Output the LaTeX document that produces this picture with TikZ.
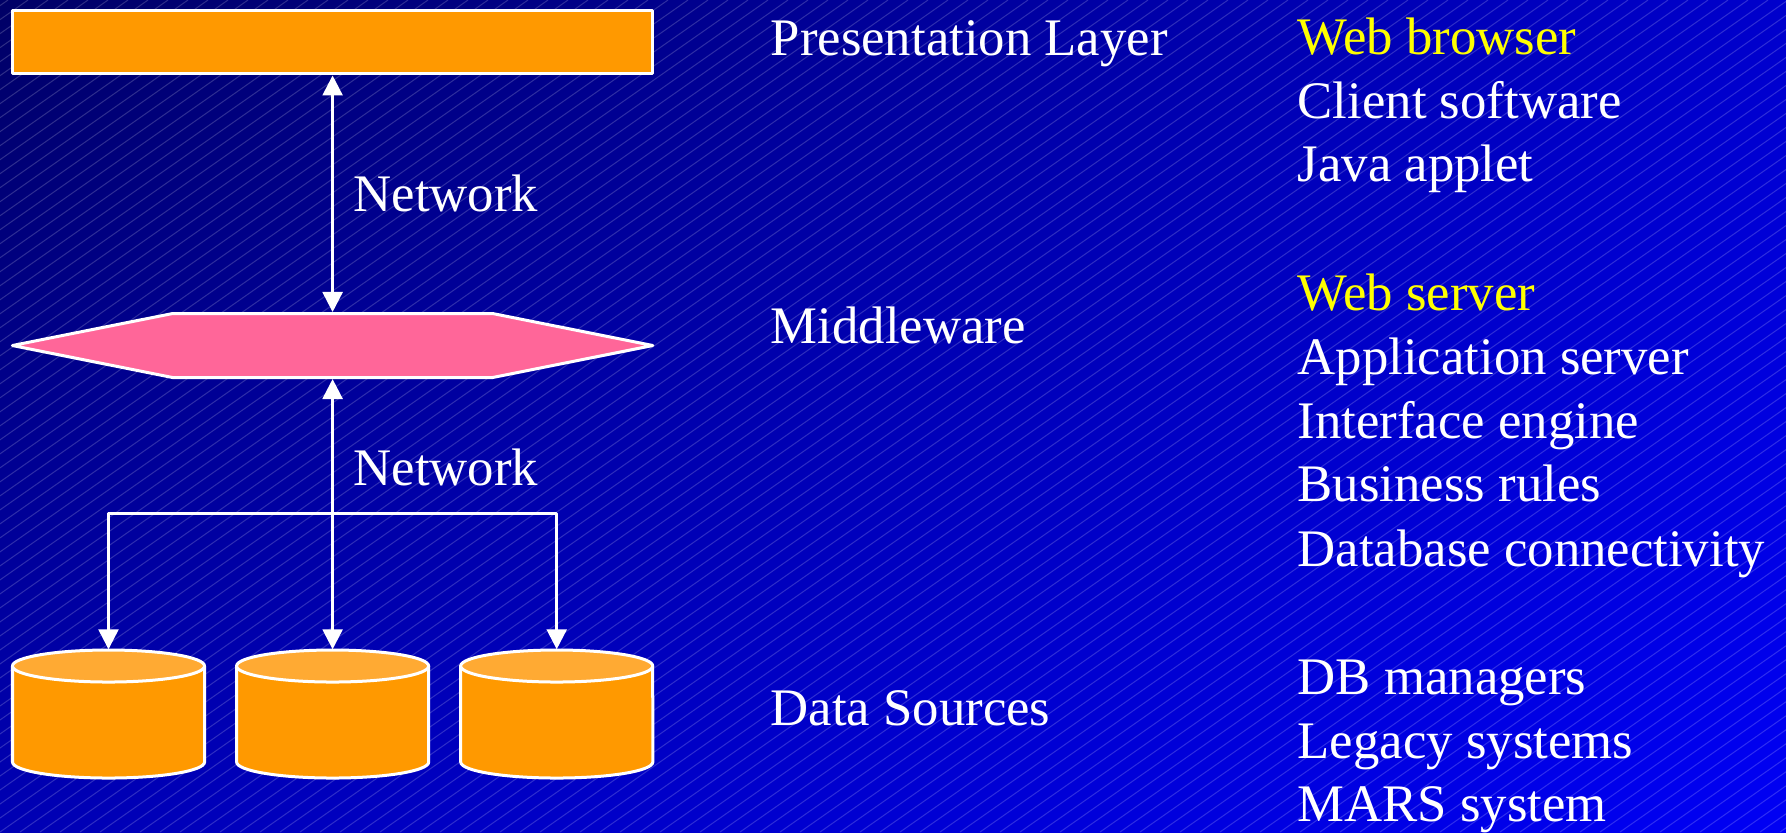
\documentclass[tikz,border=0pt]{standalone}
\usepackage{fontspec}
\setmainfont{Liberation Serif}
\usetikzlibrary{arrows.meta,shapes.symbols,shadings}

\definecolor{bgnavy}{HTML}{000066}
\definecolor{bgupper}{HTML}{0000CC}
\definecolor{bglower}{HTML}{0000B4}
\definecolor{bgbright}{HTML}{0000F4}
\definecolor{tierorange}{HTML}{FF9900}
\definecolor{captop}{HTML}{FFAA33}
\definecolor{midpink}{HTML}{FF6699}
\definecolor{hiyellow}{HTML}{FFFF00}

\begin{document}
\begin{tikzpicture}[x=0.01cm,y=-0.01cm,line join=round,>={Triangle[width=2mm,length=2mm]}]
        \tikzset{tier/.style={draw=white,line width=0.3mm,fill=tierorange,minimum width=64mm,minimum height=6.35mm,inner sep=0pt},
                 hub/.style={signal,signal to=west and east,signal pointer angle=22.6,draw=white,line width=0.3mm,fill=midpink,minimum width=64mm,minimum height=6.4mm,inner sep=0pt},
                 store/.style={minimum width=19.2mm,minimum height=12.8mm,inner sep=0pt},
                 rim/.style={draw=white,line width=0.3mm},
                 link/.style={draw=white,line width=0.25mm},
                 hatch/.style={white,opacity=0.18,line width=0.1mm},
                 caption/.style={text=white,font=\fontsize{15pt}{18pt}\selectfont,inner sep=0pt,anchor=base west}}
        \useasboundingbox (0,0) rectangle (1786,832);
        \shade[upper left=bgnavy,upper right=bgupper,lower left=bglower,lower right=bgbright] (0,0) rectangle (1786,832);
        \begin{scope}
        \clip (0,0) rectangle (1786,832);
        \foreach \k in {-1200,-1180,...,1786}
            \draw[hatch] (\k,832)--++(1188,-832);
        \end{scope}
        % tiers
        \node[tier] (pres) at (332.6,42.2) {};
        \node[hub] (mid) at (332.6,345.5) {};
        \foreach \cx [count=\i] in {108.5,332.6,556.7} {
            \node[store] (db\i) at (\cx,714) {};
            \draw[rim,fill=tierorange] (\cx-96,666)--(\cx-96,762) arc[start angle=180,end angle=360,x radius=9.6mm,y radius=1.6mm]--(\cx+96,666)--cycle;
            \draw[rim,fill=captop] (\cx,666) ellipse [x radius=9.6mm,y radius=1.6mm];
        }
        \coordinate (split) at (332.6,513.3);
        \draw[link,<->] (pres.south)--(mid.north);
        \draw[link,<->] (mid.south)--(db2.north);
        \draw[link,<->] (db1.north) |- (split) -| (db3.north);
        \node[caption] (net1) at (353,211.7) {Network};
        \node[caption] (net2) at (353,485) {Network};
        % layer names
        \node[caption] (presname) at (770,55) {Presentation Layer};
        \node[caption] (midname) at (770,343.3) {Middleware};
        \node[caption] (dataname) at (770,725) {Data Sources};
        % examples
        \node[caption,text=hiyellow] (browser) at (1297,54.3) {Web browser};
        \node[caption] (client) at (1297,118.3) {Client software};
        \node[caption] (applet) at (1297,181.7) {Java applet};
        \node[caption,text=hiyellow] (webserver) at (1297,310.7) {Web server};
        \node[caption] (appserver) at (1297,374) {Application server};
        \node[caption] (engine) at (1297,438.3) {Interface engine};
        \node[caption] (rules) at (1297,501.7) {Business rules};
        \node[caption] (dbconn) at (1297,566) {Database connectivity};
        \node[caption] (managers) at (1297,694) {DB managers};
        \node[caption] (legacy) at (1297,758.3) {Legacy systems};
        \node[caption] (mars) at (1297,821.7) {MARS system};
\end{tikzpicture}
\end{document}
